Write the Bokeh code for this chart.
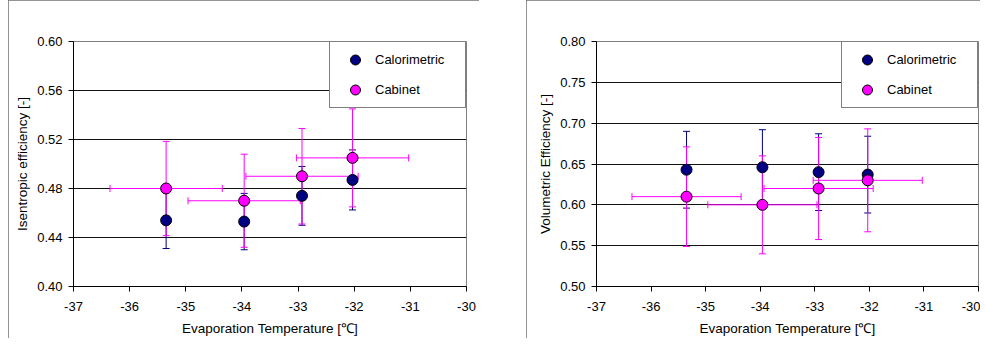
import numpy as np
from bokeh.plotting import figure
from bokeh.models import (ColumnDataSource, Range1d, FixedTicker, PrintfTickFormatter,
                          Whisker, TeeHead, Legend, LegendItem, Spacer)
from bokeh.layouts import row
from bokeh.embed import file_html
from bokeh.resources import INLINE

# ---- data ----
temp = [-35.35, -33.96, -32.93, -32.03]
temp_err_cab = [1.0, 1.0, 1.0, 1.0]

isen_cal = [0.454, 0.453, 0.474, 0.487]
isen_cal_err = [0.023, 0.023, 0.024, 0.0245]
isen_cab = [0.480, 0.470, 0.490, 0.505]
isen_cab_err = [0.0385, 0.038, 0.039, 0.040]

vol_cal = [0.643, 0.646, 0.640, 0.637]
vol_cal_err = [0.047, 0.046, 0.047, 0.047]
vol_cab = [0.610, 0.600, 0.620, 0.630]
vol_cab_err = [0.061, 0.060, 0.0625, 0.063]

x_ticks = [-37, -36, -35, -34, -33, -32, -31, -30]
isen_ticks = [0.40, 0.44, 0.48, 0.52, 0.56, 0.60]
vol_ticks = [0.50, 0.55, 0.60, 0.65, 0.70, 0.75, 0.80]
x_title = "Evaporation Temperature [\u2103]"

NAVY = "#000080"
MAG = "#FF00FF"
FONT = "Liberation Sans"
FS = "13px"
FS_TITLE = "13.5px"


def make_chart(cal, cal_err, cab, cab_err, yticks, ylabel, width, height, min_left, min_right, min_top):
    p = figure(width=width, height=height, output_backend="svg", toolbar_location=None,
               x_range=Range1d(x_ticks[0], x_ticks[-1]),
               y_range=Range1d(yticks[0], yticks[-1]),
               min_border_left=min_left, min_border_right=min_right,
               min_border_top=min_top, min_border_bottom=20,
               background_fill_color="white", border_fill_color="white")
    p.styles = {"outline": "1px solid #707070", "outline-offset": "-1px"}
    p.outline_line_color = "#808080"
    p.xgrid.grid_line_color = None
    p.ygrid.grid_line_color = "#111111"
    p.ygrid.grid_line_width = 1

    p.xaxis.ticker = FixedTicker(ticks=x_ticks)
    p.xaxis.formatter = PrintfTickFormatter(format="%d")
    p.yaxis.ticker = FixedTicker(ticks=yticks)
    p.yaxis.formatter = PrintfTickFormatter(format="%.2f")
    for ax in (p.xaxis, p.yaxis):
        ax.axis_line_color = "black"
        ax.major_tick_line_color = "black"
        ax.major_tick_out = 5
        ax.major_tick_in = 0
        ax.minor_tick_line_color = None
        ax.major_label_text_font = FONT
        ax.major_label_text_font_size = FS
        ax.major_label_text_color = "black"
        ax.axis_label_text_font = FONT
        ax.axis_label_text_font_size = FS_TITLE
        ax.axis_label_text_font_style = "normal"
        ax.axis_label_text_color = "black"
    p.xaxis.axis_label = x_title
    p.yaxis.axis_label = ylabel
    p.xaxis.major_label_standoff = 10
    p.xaxis.axis_label_standoff = 7
    p.yaxis.major_label_standoff = 6
    p.yaxis.axis_label_standoff = 4

    src_cal = ColumnDataSource(dict(x=temp, y=cal,
                                    lo=np.array(cal) - np.array(cal_err),
                                    hi=np.array(cal) + np.array(cal_err)))
    src_cab = ColumnDataSource(dict(x=temp, y=cab,
                                    lo=np.array(cab) - np.array(cab_err),
                                    hi=np.array(cab) + np.array(cab_err),
                                    xlo=np.array(temp) - np.array(temp_err_cab),
                                    xhi=np.array(temp) + np.array(temp_err_cab)))

    def tee(c):
        return TeeHead(size=7, line_color=c, line_width=1)

    w1 = Whisker(source=src_cal, base="x", lower="lo", upper="hi", dimension="height",
                 line_color=NAVY, line_width=1, upper_head=tee(NAVY), lower_head=tee(NAVY),
                 level="underlay")
    w2 = Whisker(source=src_cab, base="x", lower="lo", upper="hi", dimension="height",
                 line_color=MAG, line_width=1, upper_head=tee(MAG), lower_head=tee(MAG),
                 level="underlay")
    w3 = Whisker(source=src_cab, base="y", lower="xlo", upper="xhi", dimension="width",
                 line_color=MAG, line_width=1, upper_head=tee(MAG), lower_head=tee(MAG),
                 level="underlay")
    for w in (w1, w2, w3):
        p.add_layout(w)

    r_cal = p.scatter("x", "y", source=src_cal, size=11, marker="circle",
                      fill_color=NAVY, line_color="black", line_width=1)
    r_cab = p.scatter("x", "y", source=src_cab, size=11, marker="circle",
                      fill_color=MAG, line_color="black", line_width=1)

    legend = Legend(items=[LegendItem(label="Calorimetric", renderers=[r_cal]),
                           LegendItem(label="Cabinet", renderers=[r_cab])],
                    location="top_right", margin=0, padding=5, spacing=5,
                    glyph_width=40, glyph_height=25, label_standoff=0,
                    label_width=85, label_height=20,
                    label_text_font=FONT, label_text_font_size=FS,
                    label_text_color="black",
                    border_line_color="black", border_line_width=1,
                    background_fill_color="white", background_fill_alpha=1.0)
    p.add_layout(legend, "center")
    return p


p1 = make_chart(isen_cal, isen_cal_err, isen_cab, isen_cab_err, isen_ticks,
                "Isentropic efficiency [-]", 471, 338, 65, 13, 35)
p2 = make_chart(vol_cal, vol_cal_err, vol_cab, vol_cab_err, vol_ticks,
                "Volumetric Efficiency [-]", 454, 338, 70, 2, 41)

layout = row(Spacer(width=8), p1, Spacer(width=47), p2, spacing=0)
open("out.html", "w").write(file_html(layout, INLINE))
